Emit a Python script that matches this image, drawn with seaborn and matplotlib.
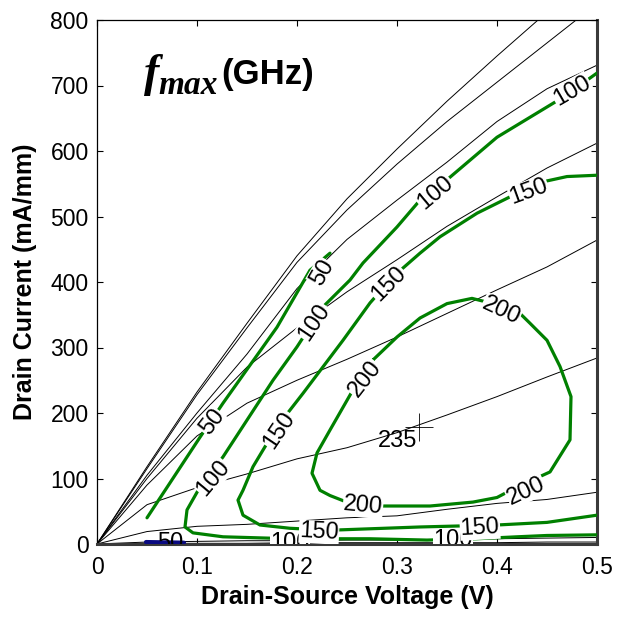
import numpy as np
import pandas as pd
import matplotlib
matplotlib.use("Agg")
import matplotlib.pyplot as plt
import seaborn as sns

# ------------------------------------------
# I-V curves (drain current in mA/mm) on a common Vds grid
# ------------------------------------------
VDS = [0.0, 0.05, 0.10, 0.15, 0.20, 0.25, 0.30, 0.35, 0.40, 0.45, 0.50]
ID_VG1 = [0, 118, 232, 337, 440, 527, 603, 676, 745, 812, 875]
ID_VG2 = [0, 115, 228, 330, 430, 510, 580, 645, 705, 765, 825]
ID_VG3 = [0, 105, 200, 290, 390, 465, 525, 583, 645, 695, 731]
ID_VG4 = [0, 100, 192, 270, 330, 385, 434, 485, 530, 574, 612]
ID_VG5 = [0, 90, 165, 215, 250, 282, 316, 352, 388, 423, 464]
ID_VG6 = [0, 60, 86, 107, 130, 147, 170, 197, 225, 255, 284]
ID_VG7 = [0, 19, 27, 30, 35, 40, 43, 53, 62, 68, 79]
ID_VG8 = [0, 3, 4, 5, 5, 6, 6, 7, 8, 9, 10]
ID_VG9 = [0, 1, 1, 1, 2, 2, 2, 2, 2, 3, 3]

# ------------------------------------------
# fmax contours (GHz), traced as (Vds, Id) polylines
# ------------------------------------------
C50_V = [0.050, 0.103, 0.126, 0.180, 0.213, 0.233]
C50_I = [40, 163, 215, 331, 418, 444]

C100_V = [0.500, 0.450, 0.420, 0.380, 0.330, 0.273, 0.193, 0.126, 0.096, 0.088,
          0.090, 0.103, 0.126, 0.176, 0.200, 0.226, 0.253, 0.266, 0.300, 0.323,
          0.353, 0.400, 0.466, 0.500]
C100_I = [14, 13, 11, 8, 6, 8, 8, 11, 17, 26,
          52, 87, 133, 250, 301, 362, 403, 429, 484, 525,
          560, 621, 682, 719]

C150_V = [0.500, 0.450, 0.400, 0.323, 0.233, 0.193, 0.163, 0.146, 0.141, 0.146,
          0.156, 0.180, 0.206, 0.246, 0.273, 0.296, 0.323, 0.343, 0.380, 0.413,
          0.446, 0.470, 0.500]
C150_I = [44, 33, 29, 26, 21, 24, 29, 44, 67, 82,
          118, 179, 230, 311, 368, 408, 444, 469, 505, 530,
          553, 561, 563]

C200_V = [0.276, 0.300, 0.323, 0.350, 0.375, 0.396, 0.423, 0.433, 0.450, 0.463,
          0.474, 0.473, 0.453, 0.420, 0.400, 0.376, 0.333, 0.283, 0.253, 0.233,
          0.223, 0.215, 0.220, 0.233, 0.260, 0.276]
C200_I = [281, 316, 345, 367, 375, 367, 352, 337, 311, 271,
          225, 159, 110, 87, 71, 64, 58, 58, 62, 74,
          82, 108, 139, 174, 246, 281]

C50_LOW_V = [0.049, 0.087]
C50_LOW_I = [3, 2]

# contour labels: text, Vds, Id, rotation
LABEL_TEXT = ["50", "50", "100", "100", "100", "100", "100", "100",
              "150", "150", "150", "150", "150", "200", "200", "200", "200"]
LABEL_V = [0.225, 0.115, 0.338, 0.475, 0.217, 0.116, 0.193, 0.356,
           0.432, 0.182, 0.292, 0.222, 0.383, 0.268, 0.404, 0.266, 0.429]
LABEL_I = [414, 186, 537, 692, 339, 101, 2, 6,
           538, 174, 397, 18, 24, 252, 356, 58, 81]
LABEL_ROT = [60, 52, 40, 30, 56, 50, 0, 0,
             20, 56, 45, -3, 3, 52, -25, -5, 25]

PEAK_V = [0.322]
PEAK_I = [178]
PEAK_LABEL = "235"

# ==========================================
sns.set_theme(style="white")
plt.rcParams["font.family"] = ["Liberation Sans", "DejaVu Sans"]
plt.rcParams["text.color"] = "black"
plt.rcParams["axes.labelcolor"] = "black"

fig = plt.figure(figsize=(6.24, 6.17), dpi=100)
ax = fig.add_axes([97 / 624, 73 / 617, 500 / 624, 524 / 617])

# I-V curves
iv = pd.DataFrame({"vds": VDS * 9,
                   "id": ID_VG1 + ID_VG2 + ID_VG3 + ID_VG4 + ID_VG5 +
                         ID_VG6 + ID_VG7 + ID_VG8 + ID_VG9,
                   "vg": np.repeat(np.arange(9), len(VDS))})
for _, grp in iv.groupby("vg"):
    sns.lineplot(x=grp["vds"].to_numpy(), y=grp["id"].to_numpy(), sort=False,
                 estimator=None, color="black", lw=0.7, ax=ax, zorder=2)

# contour lines
for cv, ci in [(C50_V, C50_I), (C100_V, C100_I), (C150_V, C150_I), (C200_V, C200_I)]:
    sns.lineplot(x=cv, y=ci, sort=False, estimator=None, color="green",
                 lw=2.3, ax=ax, zorder=3)
sns.lineplot(x=C50_LOW_V, y=C50_LOW_I, sort=False, estimator=None,
             color="#0a0a80", lw=3.0, ax=ax, zorder=4)

# contour labels
for t, v, i, r in zip(LABEL_TEXT, LABEL_V, LABEL_I, LABEL_ROT):
    ax.text(v, i, t, rotation=r, ha="center", va="center", fontsize=17,
            rotation_mode="anchor", zorder=5, clip_on=True,
            bbox=dict(boxstyle="square,pad=0.02", fc="white", ec="none"))
ax.text(0.073, 1, "50", ha="center", va="center", fontsize=17, zorder=4.5,
        clip_on=True)

# peak marker
sns.scatterplot(x=PEAK_V, y=PEAK_I, marker="+", s=420, color="black",
                linewidth=0.6, ax=ax, zorder=6)
ax.text(PEAK_V[0] - 0.002, PEAK_I[0] - 4, PEAK_LABEL, ha="right", va="top",
        fontsize=17, zorder=6)

# title-like annotation
ax.text(0.094, 0.874, "f", transform=ax.transAxes, fontsize=33,
        family="Liberation Serif", style="italic", fontweight="bold", va="baseline")
ax.text(0.122, 0.859, "max", transform=ax.transAxes, fontsize=24,
        family="Liberation Serif", style="italic", fontweight="bold", va="baseline")
ax.text(0.248, 0.878, "(GHz)", transform=ax.transAxes, fontsize=25,
        fontweight="bold", va="baseline")

ax.set_xlim(0, 0.5)
ax.set_ylim(0, 800)
ax.set_xticks([0, 0.1, 0.2, 0.3, 0.4, 0.5])
ax.set_xticklabels(["0", "0.1", "0.2", "0.3", "0.4", "0.5"])
ax.set_yticks(np.arange(0, 801, 100))
ax.tick_params(direction="in", length=4, width=0.8, colors="black",
               labelsize=16.5, top=True, right=True, bottom=True, left=True)
ax.tick_params(axis="x", pad=9)
ax.tick_params(axis="y", pad=6)
ax.set_xlabel("Drain-Source Voltage (V)", fontsize=18, fontweight="bold", labelpad=4)
ax.set_ylabel("Drain Current (mA/mm)", fontsize=18, fontweight="bold", labelpad=10)

for side in ["top", "left"]:
    ax.spines[side].set_color("black")
    ax.spines[side].set_linewidth(0.9)
for side in ["bottom", "right"]:
    ax.spines[side].set_color("#3a3a3a")
    ax.spines[side].set_linewidth(2.2)

fig.savefig("out.png", dpi=100, facecolor="white")
